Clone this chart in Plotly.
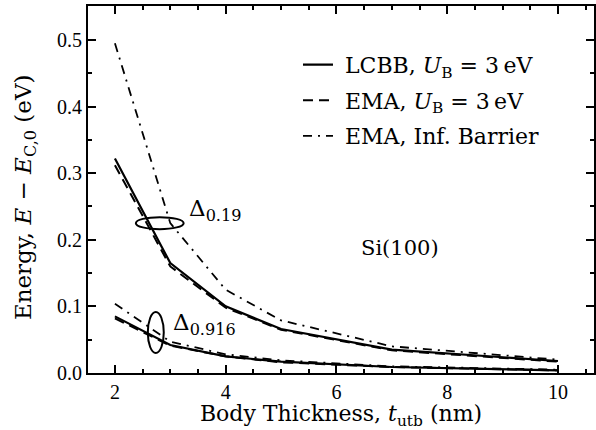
import plotly.graph_objects as go

thickness = [2, 3, 4, 5, 7, 10]

# Upper subband (Delta 0.19)
lcbb_upper = [0.322, 0.165, 0.100, 0.066, 0.035, 0.018]
ema_upper = [0.312, 0.160, 0.098, 0.065, 0.034, 0.017]
inf_upper = [0.495, 0.225, 0.125, 0.079, 0.040, 0.020]

# Lower subband (Delta 0.916)
lcbb_lower = [0.085, 0.042, 0.025, 0.017, 0.009, 0.004]
ema_lower = [0.082, 0.041, 0.025, 0.016, 0.009, 0.004]
inf_lower = [0.104, 0.047, 0.028, 0.019, 0.010, 0.005]

TICKFONT = "Liberation Serif"
FONT = "DejaVu Serif"

fig = go.Figure()

NB = "\u00a0"
styles = [
    (NB + "LCBB, <i>U</i><sub>B</sub> = 3\u2009eV", lcbb_upper, lcbb_lower, "solid", 2.2),
    (NB + "EMA, <i>U</i><sub>B</sub> = 3\u2009eV", ema_upper, ema_lower, "10px,6px", 2.0),
    (NB + "EMA, Inf. Barrier", inf_upper, inf_lower, "9px,6px,2px,6px", 1.8),
]

for name, up, lo, dash, w in styles:
    fig.add_trace(go.Scatter(x=thickness, y=up, mode="lines", name=name,
                             line=dict(color="black", width=w, dash=dash),
                             legendgroup=name, showlegend=True))
    fig.add_trace(go.Scatter(x=thickness, y=lo, mode="lines", name=name,
                             line=dict(color="black", width=w, dash=dash),
                             legendgroup=name, showlegend=False))

# ellipses marking the subbands
fig.add_shape(type="circle", xref="x", yref="y", x0=2.378, x1=3.241, y0=0.216, y1=0.234,
              line=dict(color="black", width=2))
fig.add_shape(type="circle", xref="x", yref="y", x0=2.594, x1=2.882, y0=0.030, y1=0.0916,
              line=dict(color="black", width=2))

fig.add_annotation(x=3.31, y=0.245, xref="x", yref="y", text="Δ<sub>0.19</sub>",
                   showarrow=False, xanchor="left", yanchor="middle",
                   font=dict(family=FONT, size=23, color="black"))
fig.add_annotation(x=3.02, y=0.074, xref="x", yref="y", text="Δ<sub>0.916</sub>",
                   showarrow=False, xanchor="left", yanchor="middle",
                   font=dict(family=FONT, size=23, color="black"))
fig.add_annotation(x=7.14, y=0.188, xref="x", yref="y", text="Si(100)",
                   showarrow=False, xanchor="center", yanchor="middle",
                   font=dict(family=FONT, size=21, color="black"))

# y-axis title (placed as rotated text)
fig.add_annotation(x=-0.124, y=0.48, xref="paper", yref="paper",
                   text="Energy, <i>E</i> − <i>E</i><sub>C,0</sub> (eV)",
                   textangle=-90, showarrow=False, xanchor="center", yanchor="middle",
                   font=dict(family=FONT, size=23, color="black"))

axis_common = dict(
    showline=True, linecolor="black", linewidth=2, mirror="allticks",
    ticks="inside", ticklen=8, tickwidth=2, tickcolor="black",
    showgrid=False, zeroline=False,
    tickfont=dict(family=TICKFONT, size=20, color="black"),
)

fig.update_xaxes(range=[1.514, 10.65], tickvals=[2, 4, 6, 8, 10],
                 minor=dict(ticks="inside", ticklen=4, tickwidth=1.5, dtick=0.5,
                            tick0=0, tickcolor="black", showgrid=False),
                 title=dict(text="Body Thickness, <i>t</i><sub>utb</sub> (nm)",
                            font=dict(family=FONT, size=22, color="black"), standoff=2),
                 **axis_common)
fig.update_yaxes(range=[0, 0.551], tickvals=[0, 0.1, 0.2, 0.3, 0.4, 0.5],
                 ticktext=["0.0", "0.1", "0.2", "0.3", "0.4", "0.5"],
                 minor=dict(ticks="inside", ticklen=4, tickwidth=1.5, dtick=0.05,
                            tick0=0, tickcolor="black", showgrid=False),
                 **axis_common)

fig.update_layout(
    width=596, height=430,
    margin=dict(l=88, r=0, t=6, b=57),
    plot_bgcolor="white", paper_bgcolor="white",
    legend=dict(x=0.415, y=0.897, xanchor="left", yanchor="top",
                bgcolor="rgba(0,0,0,0)", borderwidth=0,
                font=dict(family=FONT, size=22, color="black"),
                tracegroupgap=4, itemwidth=30),
)

fig.write_html("out.html")
